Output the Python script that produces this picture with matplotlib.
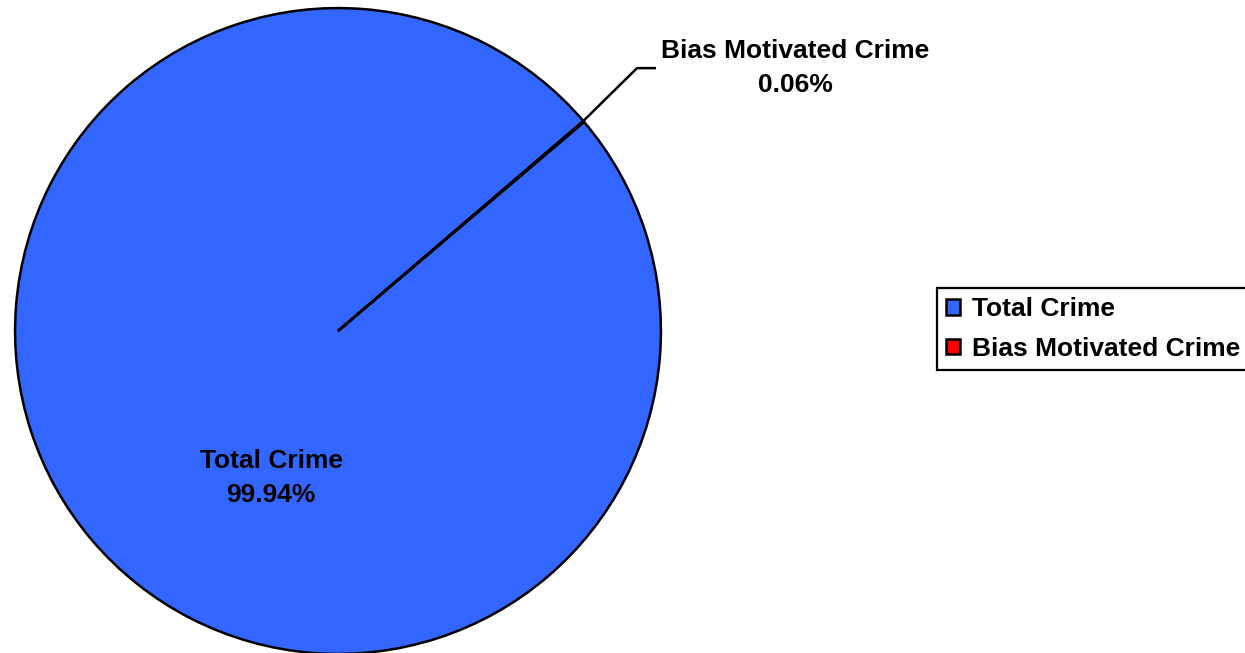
import numpy as np
import matplotlib.pyplot as plt

labels = ['Total Crime', 'Bias Motivated Crime']
shares = [99.94, 0.06]
colors = ['#3366FF', '#FF0000']


def run():
  plt.rcParams['font.family'] = ['Liberation Sans', 'DejaVu Sans']
  fig = plt.figure(figsize=(12.45, 6.53), dpi=100)
  ax = fig.add_axes([7 / 1245, -9 / 653, 662 / 1245, 662 / 653])

  wedges, _ = ax.pie(shares, colors=colors, startangle=40.35, counterclock=False,
                     wedgeprops=dict(edgecolor='black', linewidth=1.8))
  ax.set_xlim(-1.025, 1.025)
  ax.set_ylim(-1.025, 1.025)
  ax.set_aspect('equal')

  # total crime label inside the pie
  ax.text(-0.207, -0.455, '%s\n%.2f%%' % (labels[0], shares[0]),
          ha='center', va='center', fontsize=19, weight='bold', linespacing=1.55)

  # leader line for the tiny slice
  th = np.deg2rad(wedges[1].theta2)
  edge = (np.cos(th), np.sin(th))
  ax.plot([edge[0], 0.926, 0.981], [edge[1], 0.814, 0.814], color='black',
          linewidth=1.8, clip_on=False)
  ax.text(1.415, 0.814, '%s\n%.2f%%' % (labels[1], shares[1]),
          ha='center', va='center', fontsize=19, weight='bold', linespacing=1.55,
          clip_on=False)

  leg = ax.legend(wedges, labels, loc='upper left', bbox_to_anchor=(937 / 1245, 1 - 288 / 653),
                  bbox_transform=fig.transFigure, fontsize=19, frameon=True, fancybox=False,
                  framealpha=1, handlelength=0.53, handleheight=0.53, handletextpad=0.45,
                  borderpad=0.35, labelspacing=0.6, borderaxespad=0)
  leg.get_frame().set_edgecolor('black')
  leg.get_frame().set_linewidth(1.6)
  for t in leg.get_texts():
    t.set_fontweight('bold')

  fig.savefig('out.png', dpi=100)


if __name__ == '__main__':
  run()
